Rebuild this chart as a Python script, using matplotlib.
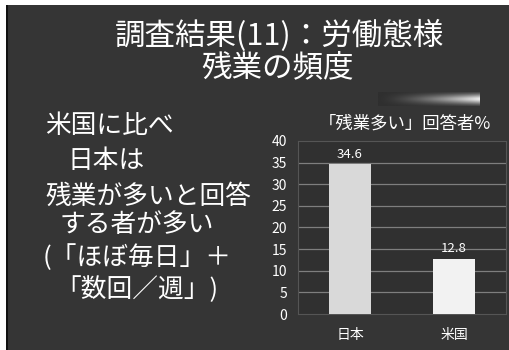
import numpy as np
import matplotlib
matplotlib.use('Agg')
import matplotlib.pyplot as plt
from matplotlib.patches import Rectangle

plt.rcParams['font.family'] = ['Noto Sans CJK JP', 'DejaVu Sans']

# data
categories = ['日本', '米国']
values = [34.6, 12.8]
bar_colors = ['#d9d9d9', '#f2f2f2']
yticks = [0, 5, 10, 15, 20, 25, 30, 35, 40]

title_lines = ['調査結果(11)：労働態様', '残業の頻度']
chart_title = '「残業多い」回答者%'
left_lines = ['米国に比べ', '日本は', '残業が多いと回答', 'する者が多い',
              '(「ほぼ毎日」＋', '「数回／週」)']

W, H = 510, 350
fig = plt.figure(figsize=(W / 100, H / 100), dpi=100, facecolor='white')

# slide background + border, in a pixel-space background axes
bgax = fig.add_axes([0, 0, 1, 1], zorder=-10)
bgax.set_xlim(0, W)
bgax.set_ylim(H, 0)
bgax.axis('off')
bgax.add_patch(Rectangle((8, 5), W - 8, H - 5, facecolor='#353535', edgecolor='none'))
bgax.add_patch(Rectangle((6, 5), 2, H - 5, facecolor='#111111', edgecolor='none'))

# light streak top right
streak = np.linspace(0, 1, 200) ** 1.5
streak = np.tile(streak, (12, 1))
prof = np.exp(-((np.arange(12) - 5.5) / 4.0) ** 2)
streak = streak * prof[:, None]
sax = fig.add_axes([378 / W, 1 - 106 / H, 102 / W, 14 / H])
sax.imshow(streak, cmap='gray', vmin=-0.25, vmax=1.1, aspect='auto')
sax.axis('off')

# titles
fig.text(279 / W, 1 - 36 / H, title_lines[0], color='white', fontsize=22,
         ha='center', va='center')
fig.text(278 / W, 1 - 68 / H, title_lines[1], color='white', fontsize=22,
         ha='center', va='center')

# left text
xs = [45, 67, 45, 60, 43, 55]
ys = [126, 161, 197, 225, 258, 290]
for t, x, y in zip(left_lines, xs, ys):
    fig.text(x / W, 1 - y / H, t, color='white', fontsize=18.5, ha='left', va='center')

# chart
ax = fig.add_axes([298 / W, 1 - 314 / H, 208 / W, 173 / H])
ax.set_facecolor('#303030')
ax.hlines(yticks[1:-1], -0.5, 1.5, colors='#7e7e7e', linewidth=0.9, zorder=1)
x = np.arange(len(categories))
bars = ax.bar(x, values, width=0.41, color=bar_colors, zorder=3)
for b, v in zip(bars, values):
    ax.text(b.get_x() + b.get_width() / 2, v + 0.8, f'{v}', ha='center', va='bottom',
            color='white', fontsize=9.5)
ax.set_xlim(-0.5, 1.5)
ax.set_ylim(0, 40)
ax.set_yticks(yticks)
ax.set_xticks(x)
ax.set_xticklabels(categories)
ax.tick_params(colors='white', labelsize=10, length=0)
ax.tick_params(axis='x', pad=10)
ax.tick_params(axis='y', pad=8)
for s in ax.spines.values():
    s.set_color('#555555')
    s.set_linewidth(0.8)

fig.text(405 / W, 1 - 124 / H, chart_title, color='white', fontsize=12.5,
         ha='center', va='center')

fig.savefig('out.png', dpi=100, facecolor=fig.get_facecolor())
